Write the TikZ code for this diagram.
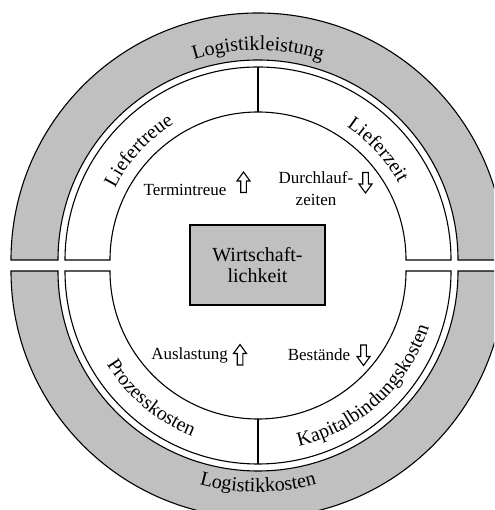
\documentclass[tikz,border=0pt]{standalone}
\usepackage{fontspec}
\setmainfont{Liberation Serif}
\usetikzlibrary{decorations.text}
\definecolor{ringgray}{RGB}{192,192,192}
\newcommand{\ringfont}{\fontsize{20}{21.5}\selectfont}
\newcommand{\labelfont}{\fontsize{17}{22}\selectfont}

\begin{document}
\begin{tikzpicture}[x=1pt,y=1pt,
  outline/.style={draw=black, line width=1.1pt, line join=miter},
  band/.style={outline, fill=ringgray},
  sector/.style={outline, fill=white},
  trend/.style={draw=black, line width=1.1pt, fill=white, line join=miter},
  arclabel/.style={decorate, decoration={text along path, text align=center, text={#1}}},
  uparrow/.pic={\draw[trend] (0,10.5) -- (6.5,1.5) -- (2.8,1.5) -- (2.8,-10) -- (-2.8,-10) -- (-2.8,1.5) -- (-6.5,1.5) -- cycle;},
  downarrow/.pic={\draw[trend] (0,-10.5) -- (6.5,-1.5) -- (2.8,-1.5) -- (2.8,10) -- (-2.8,10) -- (-2.8,-1.5) -- (-6.5,-1.5) -- cycle;}
]
\useasboundingbox (0,0) rectangle (494,510);
\clip (0,0) rectangle (494,510);

% centres of the upper and lower half rings
\coordinate (top) at (258,250);
\coordinate (bot) at (258,239);

% upper half: performance ring and its two sectors
\draw[band] (top) ++(0:247) arc[start angle=0,end angle=180,radius=247]
  -- ++(47,0) arc[start angle=180,end angle=0,radius=200] -- cycle;
\draw[sector] (top) ++(0:193) arc[start angle=0,end angle=180,radius=193]
  -- ++(45,0) arc[start angle=180,end angle=0,radius=148] -- cycle;
\draw[outline] (top) ++(90:148) -- ++(0,45);

% lower half: cost ring and its two sectors
\draw[band] (bot) ++(180:247) arc[start angle=180,end angle=360,radius=247]
  -- ++(-47,0) arc[start angle=360,end angle=180,radius=200] -- cycle;
\draw[sector] (bot) ++(180:193) arc[start angle=180,end angle=360,radius=193]
  -- ++(-45,0) arc[start angle=360,end angle=180,radius=148] -- cycle;
\draw[outline] (bot) ++(270:148) -- ++(0,-45);

% curved ring labels
\path[arclabel={|\ringfont|Logistikleistung}] (top) ++(160:210) arc[start angle=160,end angle=20,radius=210];
\path[arclabel={|\ringfont|Logistikkosten}] (bot) ++(200:221) arc[start angle=200,end angle=340,radius=221];
\path[arclabel={|\ringfont|Liefertreue}] (top) ++(177.5:160) arc[start angle=177.5,end angle=97.5,radius=160];
\path[arclabel={|\ringfont|Lieferzeit}] (top) ++(82.5:160) arc[start angle=82.5,end angle=2.5,radius=160];
\path[arclabel={|\ringfont|Prozesskosten}] (bot) ++(188:178) arc[start angle=188,end angle=272,radius=178];
\path[arclabel={|\ringfont|Kapitalbindungskosten}] (bot) ++(270.5:180) arc[start angle=270.5,end angle=354.5,radius=180];

% centre box
\node[band, minimum width=135pt, minimum height=80pt, align=center, font=\ringfont, inner sep=0pt]
  (wl) at (257.5,245) {Wirtschaft-\\lichkeit};

% target figures with their trend arrows
\node[font=\labelfont] (termin) at (185,320) {Termintreue};
\node[font=\labelfont, align=center] (dlz) at (316,321) {Durchlauf-\\zeiten};
\node[font=\labelfont] (ausl) at (189.5,155) {Auslastung};
\node[font=\labelfont] (best) at (319,155) {Bestände};
\pic (termin arrow) at (243.5,327.5) {uparrow};
\pic (dlz arrow) at (365.5,327.5) {downarrow};
\pic (ausl arrow) at (240,155) {uparrow};
\pic (best arrow) at (363.5,155) {downarrow};
\end{tikzpicture}
\end{document}
